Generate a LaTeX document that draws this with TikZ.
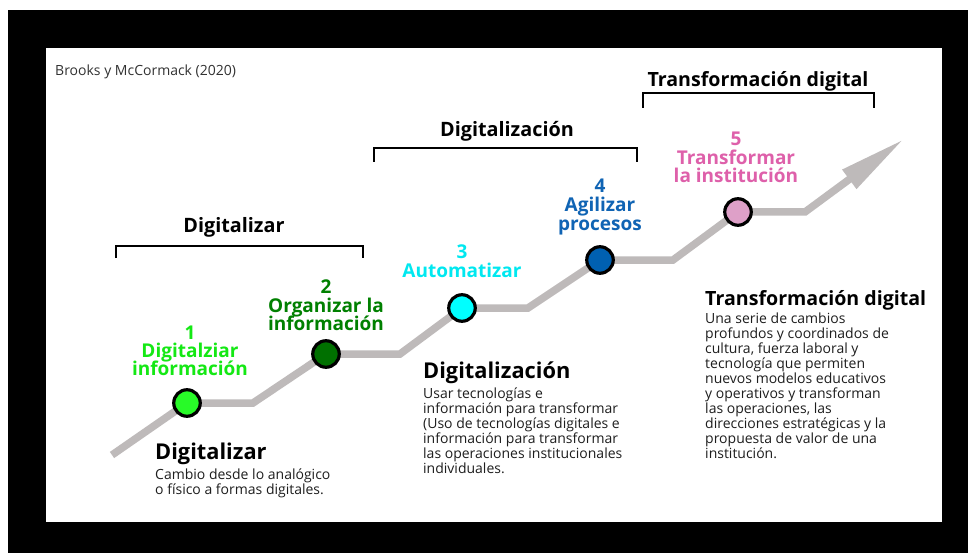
\documentclass[tikz,border=0pt]{standalone}
\usepackage{fontspec}
\setmainfont{Open Sans}
\usetikzlibrary{arrows.meta}
\newcommand\tightlinesX{\lineskiplimit=-100pt\relax}
\definecolor{trackgrey}{RGB}{190,186,186}
\definecolor{bodygrey}{RGB}{30,30,30}
\definecolor{cAfill}{RGB}{40,250,40}
\definecolor{cAtext}{RGB}{20,232,20}
\definecolor{cBfill}{RGB}{0,112,0}
\definecolor{cBtext}{RGB}{0,128,0}
\definecolor{cCfill}{RGB}{0,255,255}
\definecolor{cCtext}{RGB}{0,232,240}
\definecolor{cDfill}{RGB}{0,96,176}
\definecolor{cDtext}{RGB}{16,100,180}
\definecolor{cEfill}{RGB}{222,160,200}
\definecolor{cEtext}{RGB}{222,96,170}
\begin{document}
\begin{tikzpicture}[x=1pt,y=-1pt,
  track/.style={draw=trackgrey, line width=7.5pt, line join=miter},
  stepdot/.style={circle, draw=black, line width=3.2pt, minimum size=26.5pt, inner sep=0pt},
  brk/.style={draw=black, line width=2pt},
  toplabel/.style={font=\fontsize{19.8}{22}\selectfont\bfseries, inner sep=0pt, anchor=base},
  steplabel/.style={font={\fontsize{19}{18}\selectfont\bfseries\tightlinesX}, align=center, inner sep=0pt, anchor=base},
  heading/.style={font=\fontsize{21.8}{26}\selectfont\bfseries, inner sep=0pt, anchor=base west},
  bodytext/.style={font={\fontsize{14}{15}\selectfont\tightlinesX}, align=left, inner sep=0pt, anchor=base west, text=bodygrey}
]
\useasboundingbox (0,0) rectangle (968,553);
\fill[white] (0,0) rectangle (968,553);
\fill[black] (8,10) rectangle (968,553);
\fill[white] (46,48) rectangle (942,522);

\node[font=\fontsize{14}{16}\selectfont, text={rgb,255:red,50;green,50;blue,50}, inner sep=0pt, anchor=base west] (src) at (55,76) {Brooks y McCormack (2020)};

% brackets
\coordinate (bA1) at (116,258); \coordinate (bA2) at (116,246);
\coordinate (bA3) at (363,246); \coordinate (bA4) at (363,258);
\draw[brk] (bA1) -- (bA2) -- (bA3) -- (bA4);
\coordinate (bB1) at (374,162); \coordinate (bB2) at (374,148);
\coordinate (bB3) at (637,148); \coordinate (bB4) at (637,162);
\draw[brk] (bB1) -- (bB2) -- (bB3) -- (bB4);
\coordinate (bC1) at (643,108); \coordinate (bC2) at (643,93);
\coordinate (bC3) at (874,93); \coordinate (bC4) at (874,108);
\draw[brk] (bC1) -- (bC2) -- (bC3) -- (bC4);
\node[toplabel] (tA) at (234,233) {Digitalizar};
\node[toplabel] (tB) at (507,137) {Digitalización};
\node[toplabel, font=\fontsize{19.6}{22}\selectfont\bfseries] (tC) at (758,87) {Transformación digital};

% track
\coordinate (p0) at (112,455);
\coordinate (q1) at (187,403); \coordinate (h1) at (253,403);
\coordinate (q2) at (326,354); \coordinate (h2) at (400,354);
\coordinate (q3) at (462,308); \coordinate (h3) at (528,308);
\coordinate (q4) at (600,260); \coordinate (h4) at (673,260);
\coordinate (q5) at (738,212); \coordinate (h5) at (805,212);
\coordinate (tip) at (904,139);
\draw[track, -{Triangle[length=68pt,width=22pt]}] (p0) -- (q1) -- (h1) -- (q2) -- (h2) -- (q3) -- (h3) -- (q4) -- (h4) -- (q5) -- (h5) -- (tip);

\node[stepdot, fill=cAfill] (n1) at (q1) {};
\node[stepdot, fill=cBfill] (n2) at (q2) {};
\node[stepdot, fill=cCfill] (n3) at (q3) {};
\node[stepdot, fill=cDfill] (n4) at (q4) {};
\node[stepdot, fill=cEfill] (n5) at (q5) {};

% step labels (anchor = baseline of last line)
\node[steplabel, text=cAtext] (l1) at (190,375) {1\\[0pt]Digitalziar\\información};
\node[steplabel, text=cBtext] (l2) at (326,330) {2\\[1pt]Organizar la\\información};
\node[steplabel, text=cCtext] (l3) at (462,277) {3\\[1pt]Automatizar};
\node[steplabel, text=cDtext] (l4) at (600,230) {4\\[1pt]Agilizar\\procesos};
\node[steplabel, text=cEtext] (l5) at (736,183) {5\\[1pt]Transformar\\la institución};

% descriptions
\node[heading] (hA) at (155,459) {Digitalizar};
\node[bodytext] (dA) at (155,494) {Cambio desde lo analógico\\o físico a formas digitales.};
\node[heading] (hB) at (423,378) {Digitalización};
\node[bodytext] (dB) at (423,473) {Usar tecnologías e\\información para transformar\\(Uso de tecnologías digitales e\\información para transformar\\las operaciones institucionales\\individuales.};
\node[heading, font=\fontsize{19.6}{24}\selectfont\bfseries] (hC) at (705,305) {Transformación digital};
\node[bodytext] (dC) at (705,458) {Una serie de cambios\\profundos y coordinados de\\cultura, fuerza laboral y\\tecnología que permiten\\nuevos modelos educativos\\y operativos y transforman\\las operaciones, las\\direcciones estratégicas y la\\propuesta de valor de una\\institución.};
\end{tikzpicture}
\end{document}
